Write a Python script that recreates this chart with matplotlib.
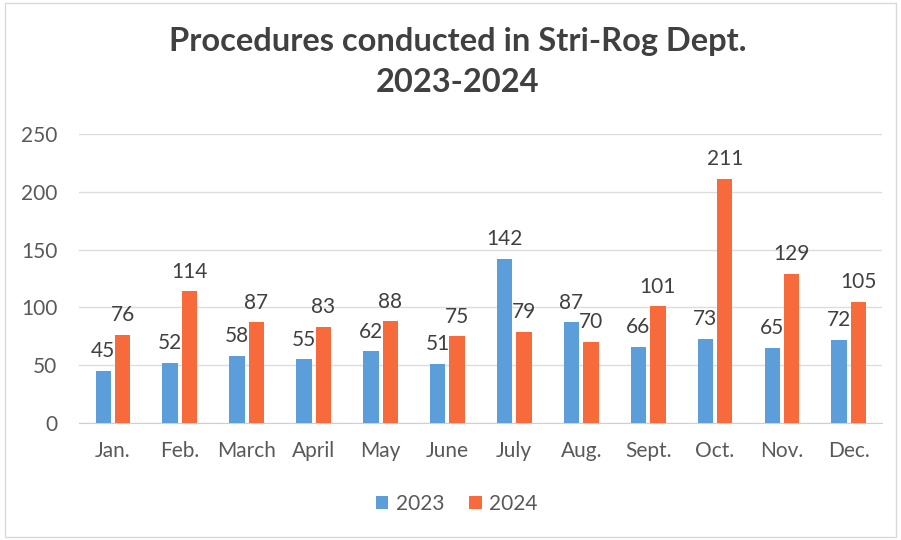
import matplotlib.pyplot as plt
import numpy as np

months = ["Jan.", "Feb.", "March", "April", "May", "June",
          "July", "Aug.", "Sept.", "Oct.", "Nov.", "Dec."]
y2023 = [45, 52, 58, 55, 62, 51, 142, 87, 66, 73, 65, 72]
y2024 = [76, 114, 87, 83, 88, 75, 79, 70, 101, 211, 129, 105]

blue = "#5B9EDA"
orange = "#F66A3B"
txt = "#404040"

plt.rcParams['font.family'] = ['Lato', 'DejaVu Sans']

fig = plt.figure(figsize=(9.01, 5.40), dpi=100)
ax = fig.add_axes([0.0882, 0.2167, 0.891, 0.535])

x = np.arange(len(months))
w = 0.23
off = 0.145
b1 = ax.bar(x - off, y2023, w, color=blue, label="2023", zorder=3)
b2 = ax.bar(x + off, y2024, w, color=orange, label="2024", zorder=3)

for bars in (b1, b2):
    for r in bars:
        ax.annotate(str(int(r.get_height())),
                    (r.get_x() + r.get_width() / 2, r.get_height()),
                    xytext=(0, 7), textcoords="offset points",
                    ha="center", va="bottom", fontsize=15, color=txt)

ax.set_xlim(-0.5, len(months) - 0.5)
ax.set_ylim(0, 250)
ax.set_yticks(range(0, 251, 50))
ax.set_xticks(x)
ax.set_xticklabels(months)
ax.tick_params(axis="both", length=0, labelsize=15, colors="#595959")
ax.tick_params(axis="y", pad=16)
ax.tick_params(axis="x", pad=13)
ax.grid(axis="y", color="#dcdcdc", linewidth=1, zorder=0)
for s in ["top", "right", "left"]:
    ax.spines[s].set_visible(False)
ax.spines["bottom"].set_color("#d0d0d0")

fig.text(0.508, 0.886, "Procedures conducted in Stri-Rog Dept.\n2023-2024",
         ha="center", va="center", fontsize=23.5, fontweight="bold",
         color=txt, linespacing=1.5)

ax.legend(loc="upper center", bbox_to_anchor=(0.47, -0.18), ncol=2,
          frameon=False, fontsize=15, handlelength=0.6, handleheight=0.6,
          handletextpad=0.35, columnspacing=1.2, labelcolor="#595959")

fig.patches.append(plt.Rectangle((0.005, 0.005), 0.99, 0.99, transform=fig.transFigure,
                                 fill=False, edgecolor="#d8d8d8", linewidth=1))

fig.savefig("out.png", dpi=100)
